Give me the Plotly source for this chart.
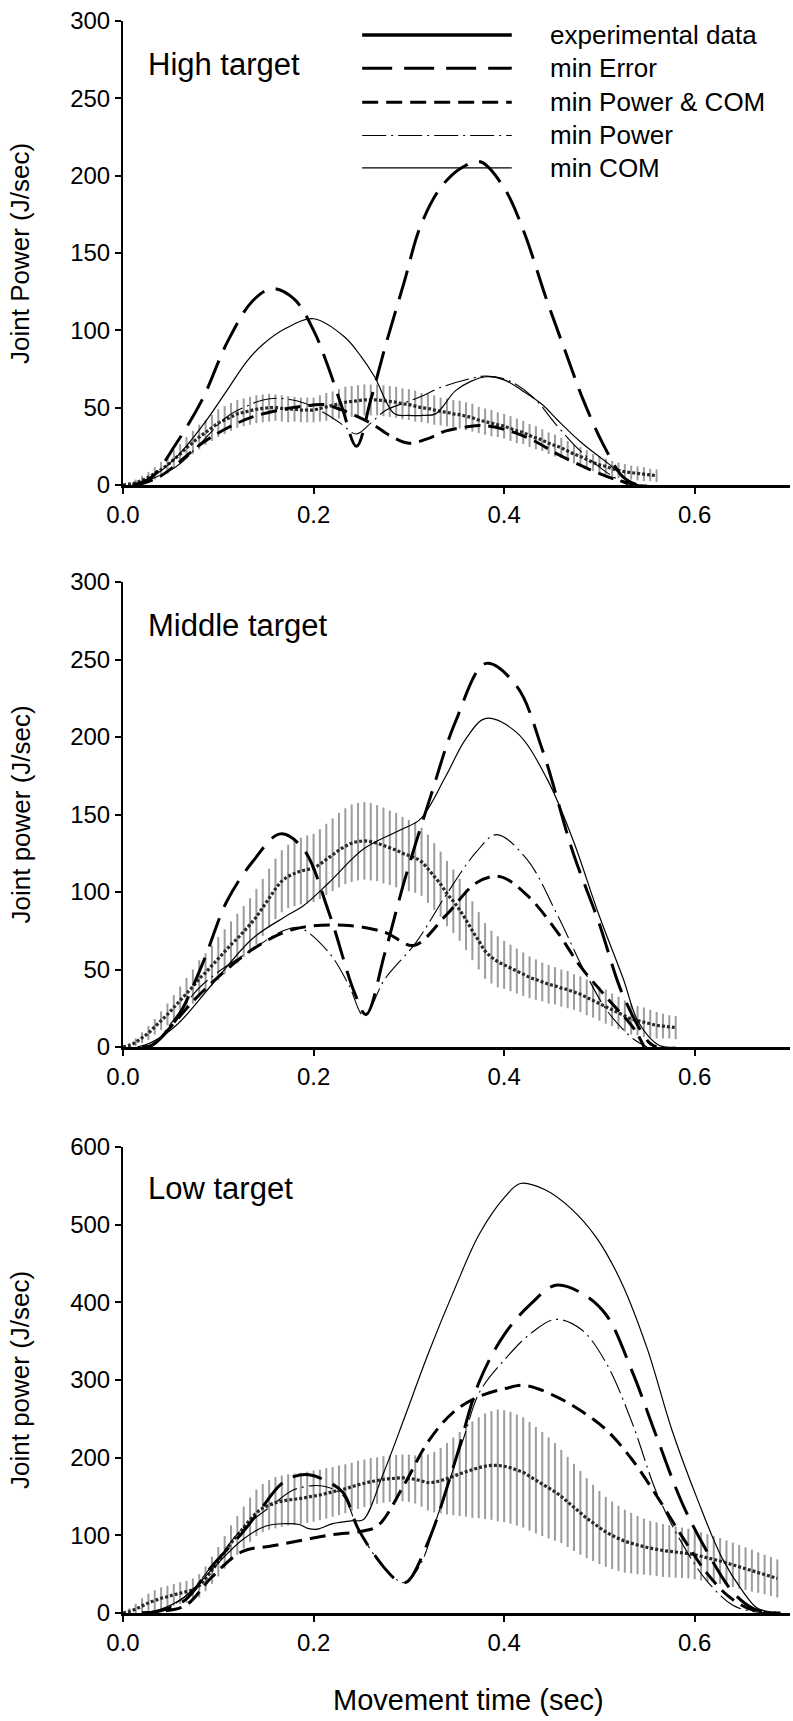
import plotly.graph_objects as go

# ---------------- data ----------------
FS = 150.0  # experimental sampling rate (Hz)

# High target - experimental mean and SD
high_exp_mean = [0, 0.5, 1.5, 3, 5, 7.5, 10, 13, 16.5, 20,
                 24, 27.5, 31, 34, 37, 40, 42, 44, 46, 47,
                 48, 49, 49.5, 50, 50, 49.5, 49, 49, 48.5, 48.5,
                 48.5, 49.5, 50.5, 51.5, 52.5, 53.5, 54, 54.5, 55, 55,
                 55, 54.5, 54, 53.5, 52.5, 52, 51, 50, 49.5, 48.5,
                 47.5, 47, 46, 45.5, 44.5, 43.5, 42, 41, 40, 39,
                 38, 36.5, 35, 34, 32, 30.5, 29, 27, 25.5, 24,
                 22, 20, 18.5, 16.5, 14.5, 13, 12, 10.5, 9.5, 8.5,
                 8, 7.5, 7, 6.5, 6]
high_exp_sd = [1, 1.5, 2, 3, 3.5, 4, 5, 5.5, 6, 6.5,
               7, 7.5, 8, 8, 8.5, 9, 9, 9, 9, 9,
               9, 9, 9, 9, 8.5, 8.5, 8.5, 8, 8, 8,
               8, 8.5, 9, 9, 9.5, 10, 10, 10, 10, 10,
               10, 10, 10, 10, 10, 10, 10, 9.5, 9.5, 9.5,
               9, 9, 9, 9, 9, 9, 8.5, 8.5, 8.5, 8,
               8, 8, 8, 7.5, 7.5, 7.5, 7, 7, 7, 6.5,
               6.5, 6, 6, 6, 5.5, 5.5, 5, 5, 5, 5,
               4.5, 4.5, 4.5, 4, 4]

high_err_t = [0.01, 0.03, 0.056, 0.083, 0.11, 0.136, 0.157, 0.18, 0.2, 0.215, 0.23, 0.245,
              0.26, 0.275, 0.295, 0.312, 0.333, 0.355, 0.375, 0.4, 0.42, 0.445, 0.465,
              0.483, 0.505, 0.525, 0.54]
high_err_y = [0, 5, 27, 55, 93, 119, 127, 120, 100, 77, 50, 25,
              55, 89, 131, 167, 192, 205, 209, 192, 165, 119, 85,
              55, 25, 5, 0]
high_pc_t = [0.015, 0.04, 0.083, 0.11, 0.136, 0.168, 0.19, 0.21, 0.232, 0.26, 0.28, 0.3,
             0.32, 0.339, 0.36, 0.376, 0.403, 0.43, 0.456, 0.49, 0.52, 0.54]
high_pc_y = [0, 6, 27, 37, 44, 49, 51, 52, 48, 40, 32, 27,
             30, 35, 37.5, 38.5, 35.5, 29, 20, 10, 3, 0]
high_pow_t = [0.015, 0.056, 0.08, 0.109, 0.13, 0.147, 0.165, 0.19, 0.21, 0.228, 0.245, 0.26,
              0.275, 0.295, 0.312, 0.333, 0.36, 0.381, 0.403, 0.43, 0.456, 0.48, 0.509, 0.53]
high_pow_y = [0, 12, 26, 44, 51, 55, 56, 53, 47, 40, 33, 40,
              48, 53, 57, 63, 68, 70.5, 68, 57, 38, 22, 7.5, 0]
high_com_t = [0.01, 0.03, 0.056, 0.083, 0.109, 0.13, 0.147, 0.17, 0.2, 0.232, 0.25, 0.264,
              0.285, 0.3, 0.315, 0.328, 0.349, 0.365, 0.381, 0.4, 0.419, 0.44, 0.456, 0.48,
              0.509, 0.536, 0.55]
high_com_y = [0, 5, 18, 38, 61, 80, 91, 101, 107.5, 96, 83, 70,
              46, 45, 45, 46, 61, 67, 70, 68, 61, 52, 42, 28,
              14, 1, 0]

# Middle target
mid_exp_mean = [0, 1, 3, 6, 9, 13, 17, 21, 25.5, 30,
                34.5, 39, 44, 48, 52.5, 57, 61.5, 66, 70, 74.5,
                79, 84, 90, 96, 102, 107, 110, 112, 113.5, 114.5,
                115.5, 118, 121, 124, 127, 129.5, 131.5, 132.5, 133, 132.5,
                131.5, 130, 128.5, 127, 125, 123.5, 122, 119.5, 115, 110,
                105, 99, 94, 88.5, 82, 75, 68.5, 62, 58, 55,
                53, 51, 49, 47, 45, 43.5, 42, 40.5, 39.5, 38,
                37, 35.5, 34, 32, 30, 28, 26, 24, 22, 20,
                18, 17, 16, 15, 14, 13.5, 13, 12.5]
mid_exp_sd = [1, 1.5, 2.5, 3.5, 4.5, 5, 6, 7, 8, 9,
              10, 11, 12, 12.5, 13, 14, 14.5, 15, 16, 16.5,
              17, 18, 18.5, 19, 19.5, 20, 20.5, 21, 21.5, 22,
              22, 22.5, 23, 23.5, 24, 24.5, 25, 25, 25, 25,
              24.5, 24.5, 24, 24, 23.5, 23, 22.5, 22, 22, 21.5,
              21, 21, 20.5, 20, 19.5, 19, 18.5, 18, 17, 16.5,
              15.5, 15, 14.5, 14, 13.5, 13, 12.5, 12.5, 12, 12,
              12, 11.5, 11.5, 11.5, 11, 11, 11, 10.5, 10.5, 10,
              10, 9.5, 9.5, 9, 8.5, 8, 7.5, 7.5]

mid_err_t = [0.02, 0.03, 0.056, 0.083, 0.109, 0.136, 0.165, 0.189, 0.216, 0.243, 0.255,
             0.275, 0.296, 0.323, 0.349, 0.381, 0.413, 0.44, 0.472, 0.499, 0.525, 0.552, 0.56]
mid_err_y = [0, 1, 18, 53, 94, 119.5, 137.5, 128, 87, 35, 21,
             61, 108.6, 162, 210, 247.5, 233, 192, 126, 81, 33, 3, 0]
mid_pc_t = [0.02, 0.03, 0.083, 0.136, 0.179, 0.232, 0.275, 0.305, 0.339, 0.371, 0.395,
            0.424, 0.456, 0.48, 0.509, 0.536, 0.547]
mid_pc_y = [0, 1, 35.5, 63, 76, 78.5, 74, 65.5, 85, 106, 110,
            98, 74, 52, 31, 12, 0]
mid_pow_t = [0.02, 0.03, 0.083, 0.136, 0.168, 0.185, 0.216, 0.237, 0.253, 0.275, 0.307,
             0.339, 0.371, 0.392, 0.424, 0.456, 0.483, 0.509, 0.536, 0.55]
mid_pow_y = [0, 1, 40, 63, 75, 77, 61, 40, 20, 44, 67,
             98, 126, 137, 121, 85, 50.5, 22.6, 5, 0]
mid_com_t = [0.015, 0.03, 0.056, 0.093, 0.136, 0.17, 0.189, 0.216, 0.253, 0.291, 0.312,
             0.339, 0.36, 0.381, 0.413, 0.445, 0.472, 0.499, 0.525, 0.541, 0.563, 0.58]
mid_com_y = [0, 3, 14, 40, 70, 84, 91, 106, 128, 140, 147,
             175, 199, 212, 203, 173, 134, 86, 44, 16, 1, 0]

# Low target
low_exp_mean = [0, 2, 5, 9, 13, 16, 19, 21, 23.5, 25.5,
                27.5, 30, 35, 44, 55, 66, 78, 90, 100, 110,
                120, 129, 135, 139, 142, 144, 145.5, 146.5, 147.5, 149,
                150.5, 152, 154, 156, 158, 160, 162.5, 165, 167, 169,
                170.5, 172, 173, 173.5, 174, 173.5, 172, 170, 168, 168.5,
                170.5, 173, 176, 179, 182, 184.5, 187, 189, 190, 190,
                189, 187, 184, 181, 176, 171, 166, 161, 156, 150,
                143, 136, 129, 122, 116, 110, 104.5, 100, 96, 92.5,
                90, 87.5, 85.5, 83.5, 82, 80.5, 79.5, 78.5, 77.5, 76.5,
                75, 73, 71, 69, 67, 64.5, 62, 59.5, 57, 54.5,
                52, 49.5, 47, 44.5]
low_exp_sd = [1, 4, 7, 10, 12, 13.5, 14, 14, 14, 14,
              14, 14.5, 15, 16, 17.5, 19, 21, 23, 25, 27,
              28.5, 30, 31, 32, 33, 33, 33, 33, 33, 33,
              33, 32.5, 32.5, 32, 32, 31.5, 31, 31, 30.5, 30.5,
              30, 30, 30, 30, 30, 30.5, 31, 33, 36, 39,
              42, 46, 50, 54, 58, 62, 65, 68, 70, 72,
              72, 72, 71.5, 71, 70, 68.5, 67, 65, 63, 60,
              58, 56, 54, 51.5, 49, 47, 45, 43.5, 42, 40.5,
              39, 37.5, 36, 35, 34.5, 34, 33.5, 33, 32.5, 32,
              31.5, 31, 30.5, 30, 29.5, 29, 28.5, 28, 27.5, 27,
              26, 25.5, 25, 24.5]

low_err_t = [0.02, 0.04, 0.066, 0.093, 0.125, 0.146, 0.165, 0.18, 0.195, 0.21, 0.231,
             0.247, 0.273, 0.289, 0.298, 0.321, 0.348, 0.374, 0.401, 0.428, 0.454, 0.481,
             0.507, 0.534, 0.56, 0.587, 0.613, 0.64, 0.661, 0.677, 0.69]
low_err_y = [0, 3, 17.6, 60, 103, 136, 165, 176, 178, 172, 155,
             108, 60, 41, 40, 94, 193, 298, 360, 398, 422, 412,
             384, 312, 227, 141, 79, 27, 6, 1, 0]
low_pc_t = [0.02, 0.04, 0.066, 0.093, 0.125, 0.157, 0.189, 0.22, 0.252, 0.268, 0.295,
            0.321, 0.348, 0.374, 0.401, 0.422, 0.454, 0.481, 0.507, 0.534, 0.56, 0.587,
            0.613, 0.635, 0.656, 0.672, 0.685]
low_pc_y = [0, 2, 10, 46, 79, 86.5, 94, 101, 105.5, 113, 165,
            222, 260, 279, 289, 293, 279, 260, 236, 198, 151, 98,
            51, 22, 6, 1, 0]
low_pow_t = [0.02, 0.04, 0.066, 0.093, 0.125, 0.157, 0.178, 0.2, 0.215, 0.231, 0.247,
             0.273, 0.295, 0.311, 0.332, 0.358, 0.374, 0.401, 0.428, 0.454, 0.481, 0.507,
             0.534, 0.56, 0.587, 0.613, 0.64, 0.661, 0.68]
low_pow_y = [0, 3, 22, 60, 108, 139, 158, 164, 162, 151, 108,
             60, 39, 60, 132, 227, 284, 327, 360, 378, 365, 322,
             246, 155, 89, 41, 10, 2, 0]
low_com_t = [0.02, 0.04, 0.066, 0.093, 0.125, 0.15, 0.17, 0.185, 0.194, 0.204, 0.22,
             0.242, 0.252, 0.273, 0.295, 0.321, 0.348, 0.374, 0.401, 0.417, 0.443, 0.47,
             0.497, 0.523, 0.55, 0.576, 0.603, 0.629, 0.651, 0.666, 0.682, 0.69]
low_com_y = [0, 5, 22, 55.6, 94, 112, 115, 114, 109, 108, 115,
             119, 120, 179, 250, 336, 417, 488, 536, 553, 545, 521,
             483, 426, 341, 236, 146, 70, 27, 6, 1, 0]

panel_titles = ["High target", "Middle target", "Low target"]
y_titles = ["Joint Power (J/sec)", "Joint power (J/sec)", "Joint power (J/sec)"]
y_ranges = [300, 300, 600]
y_dticks = [50, 50, 100]
label_y = [272, 272, 547]
x_ticks = [0.0, 0.2, 0.4, 0.6]
x_tick_text = ["0.0", "0.2", "0.4", "0.6"]
x_title = "Movement time (sec)"
legend_names = ["experimental data", "min Error", "min Power & COM", "min Power", "min COM"]
legend_rows = [291, 269.5, 247.5, 226, 205]

# ---------------- styles ----------------
FONT = "Liberation Sans Narrow, Arial Narrow, Liberation Sans, Arial"
styles = {
    "exp": dict(color="black", width=3.5),
    "err": dict(color="black", width=3, dash="30px,12px"),
    "pc": dict(color="black", width=3, dash="16px,8px"),
    "pow": dict(color="black", width=1.1, dash="24px,5px,2px,5px"),
    "com": dict(color="black", width=1.2),
}

panels = [
    (high_exp_mean, high_exp_sd, [(high_err_t, high_err_y, "err"), (high_pc_t, high_pc_y, "pc"),
                                  (high_pow_t, high_pow_y, "pow"), (high_com_t, high_com_y, "com")]),
    (mid_exp_mean, mid_exp_sd, [(mid_err_t, mid_err_y, "err"), (mid_pc_t, mid_pc_y, "pc"),
                                (mid_pow_t, mid_pow_y, "pow"), (mid_com_t, mid_com_y, "com")]),
    (low_exp_mean, low_exp_sd, [(low_err_t, low_err_y, "err"), (low_pc_t, low_pc_y, "pc"),
                                (low_pow_t, low_pow_y, "pow"), (low_com_t, low_com_y, "com")]),
]

W, H = 793, 1721
ML, MR, MT, MB = 123, 3, 21, 108
plot_w = W - ML - MR
plot_h = H - MT - MB
panel_px = [(21, 485), (582, 1047), (1147, 1613)]
domains = [[(H - MB - b) / plot_h, (H - MB - t) / plot_h] for t, b in panel_px]

fig = go.Figure()
for k, (mean, sd, models) in enumerate(panels):
    xa = "x" if k == 0 else f"x{k+1}"
    ya = "y" if k == 0 else f"y{k+1}"
    t = [i / FS for i in range(len(mean))]
    fig.add_trace(go.Scatter(
        x=t, y=mean, xaxis=xa, yaxis=ya, mode="markers",
        marker=dict(size=1, color="rgba(0,0,0,0)"),
        error_y=dict(type="data", array=sd, visible=True, width=0, thickness=2, color="#9c9c9c"),
        showlegend=False, hoverinfo="skip"))
    fig.add_trace(go.Scatter(
        x=t, y=mean, xaxis=xa, yaxis=ya, mode="lines", line_shape="spline",
        line=dict(color="#2a2a2a", width=3.2, dash="3px,2px"), showlegend=False))
    for mt, my, key in models:
        fig.add_trace(go.Scatter(
            x=mt, y=my, xaxis=xa, yaxis=ya, mode="lines", line_shape="spline",
            line=styles[key], showlegend=False))

axis_common = dict(showline=True, linecolor="black", ticks="outside", tickcolor="black",
                   ticklen=6, tickwidth=2, showgrid=False, zeroline=False,
                   tickfont=dict(family=FONT, size=24, color="black"))
layout = dict(width=W, height=H, margin=dict(l=ML, r=MR, t=MT, b=MB),
              paper_bgcolor="white", plot_bgcolor="white", showlegend=False)
for k in range(3):
    sx = "" if k == 0 else str(k + 1)
    layout[f"xaxis{sx}"] = dict(axis_common, domain=[0, 1], range=[0, 0.7],
                                tickvals=x_ticks, ticktext=x_tick_text,
                                anchor=f"y{sx}", linewidth=3)
    layout[f"yaxis{sx}"] = dict(axis_common, domain=domains[k], range=[0, y_ranges[k]],
                                dtick=y_dticks[k], anchor=f"x{sx}", linewidth=2)
fig.update_layout(**layout)

ann = []
for k in range(3):
    sx = "" if k == 0 else str(k + 1)
    ann.append(dict(x=0.024, y=label_y[k], xref=f"x{sx}", yref=f"y{sx}", text=panel_titles[k],
                    showarrow=False, xanchor="left", yanchor="middle",
                    font=dict(family=FONT, size=31, color="black")))
    ann.append(dict(x=(20 - ML) / plot_w, y=sum(domains[k]) / 2, xref="paper", yref="paper",
                    text=y_titles[k], textangle=-90, showarrow=False,
                    xanchor="center", yanchor="middle",
                    font=dict(family=FONT, size=26, color="black")))
ann.append(dict(x=(468 - ML) / plot_w, y=(H - MB - 1700) / plot_h, xref="paper", yref="paper",
                text=x_title, showarrow=False, xanchor="center", yanchor="middle",
                font=dict(family=FONT, size=29, color="black")))

# legend (drawn in the top panel)
shapes = []
leg_keys = ["exp", "err", "pc", "pow", "com"]
for name, key, ry in zip(legend_names, leg_keys, legend_rows):
    shapes.append(dict(type="line", xref="x", yref="y", x0=0.251, x1=0.408, y0=ry, y1=ry,
                       line=styles[key]))
    ann.append(dict(x=0.446, y=ry, xref="x", yref="y", text=name, showarrow=False,
                    xanchor="left", yanchor="middle",
                    font=dict(family=FONT, size=26, color="black")))
fig.update_layout(annotations=ann, shapes=shapes)

fig.write_html("out.html")
